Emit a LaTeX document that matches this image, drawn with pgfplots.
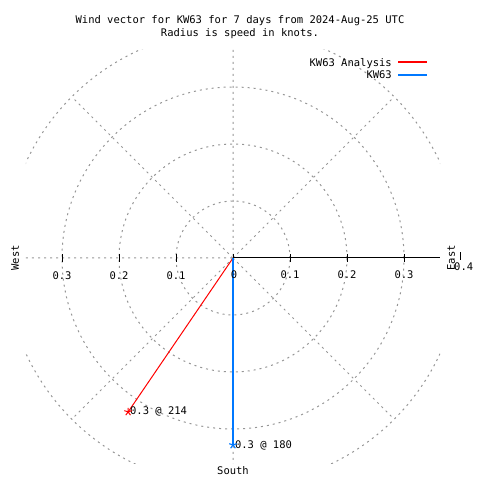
\documentclass[border=0pt]{standalone}
\usepackage{pgfplots}
\pgfplotsset{compat=1.18}
\usepackage{fontspec}
\setmainfont{DejaVu Sans Mono}
\definecolor{kwblue}{RGB}{0,120,255}
\definecolor{gridgray}{RGB}{150,150,150}
\begin{document}
\begin{tikzpicture}[font=\fontsize{10.5}{12}\selectfont]
\path[use as bounding box] (-26pt,-16pt) rectangle (454pt,464pt);
% polar grid (centre of the axis at (207pt,206pt), 570pt per knot)
\begin{scope}
\clip (0pt,0pt) rectangle (414pt,414pt);
\draw[gridgray, line width=1pt, dash pattern=on 2pt off 4pt]
  (207pt,206pt) circle[radius=57pt]
  (207pt,206pt) circle[radius=114pt]
  (207pt,206pt) circle[radius=171pt]
  (207pt,206pt) circle[radius=228pt];
\draw[gridgray, line width=1pt, dash pattern=on 2pt off 4pt]
  (0pt,206pt) -- (207pt,206pt)
  (207pt,414pt) -- (207pt,0pt)
  (207pt,206pt) -- ++(161.2pt,161.2pt)
  (207pt,206pt) -- ++(-161.2pt,161.2pt)
  (207pt,206pt) -- ++(161.2pt,-161.2pt)
  (207pt,206pt) -- ++(-161.2pt,-161.2pt);
\draw[black, line width=1pt] (207pt,206pt) -- (414pt,206pt);
\end{scope}
\foreach \t in {36,93,150,207,264,321,378}
  \draw[black, line width=0.8pt] (\t pt,202pt) -- (\t pt,210pt);
\begin{axis}[at={(0pt,0pt)}, anchor=south west, scale only axis,
  width=414pt, height=414pt,
  xmin=-0.3632, xmax=0.3632, ymin=-0.3614, ymax=0.3649,
  hide axis, clip=true]
\addplot[red, line width=1pt, mark=star, mark size=4pt, mark indices={2}]
  coordinates {(0,0) (-0.184,-0.270)}
  node[pos=1, anchor=west, black, inner sep=0pt, xshift=1.5pt] {0.3 @ 214};
\addplot[kwblue, line width=1.1pt, mark=star, mark size=4pt, mark indices={2}]
  coordinates {(0,0) (0,-0.328)}
  node[pos=1, anchor=west, black, inner sep=0pt, xshift=1.5pt] {0.3 @ 180};
\end{axis}
% titles
\node[anchor=base, inner sep=0pt] at (214pt,440pt) {Wind vector for KW63 for 7 days from 2024-Aug-25 UTC};
\node[anchor=base, inner sep=0pt] at (214pt,427pt) {Radius is speed in knots.};
% legend
\node[anchor=base east, inner sep=0pt] at (366pt,397pt) {KW63 Analysis};
\draw[red, line width=1.1pt] (372pt,402pt) -- (401pt,402pt);
\node[anchor=base east, inner sep=0pt] at (366pt,385pt) {KW63};
\draw[kwblue, line width=1.1pt] (372pt,389pt) -- (401pt,389pt);
% tick labels
\node[anchor=base, inner sep=0pt] at (36pt,184pt) {0.3};
\node[anchor=base, inner sep=0pt] at (93pt,184pt) {0.2};
\node[anchor=base, inner sep=0pt] at (150pt,184pt) {0.1};
\node[anchor=base, inner sep=0pt] at (208pt,185pt) {0};
\node[anchor=base, inner sep=0pt] at (264pt,185pt) {0.1};
\node[anchor=base, inner sep=0pt] at (321pt,185pt) {0.2};
\node[anchor=base, inner sep=0pt] at (378pt,185pt) {0.3};
\node[anchor=base west, inner sep=0pt] at (428pt,193pt) {0.4};
\draw[black, line width=0.8pt] (434pt,204pt) -- (434pt,212pt);
% direction labels
\node[rotate=90, inner sep=0pt] at (-11pt,206pt) {West};
\node[rotate=90, inner sep=0pt] at (425pt,206pt) {East};
\node[anchor=base, inner sep=0pt] at (207pt,-11pt) {South};
\end{tikzpicture}
\end{document}
